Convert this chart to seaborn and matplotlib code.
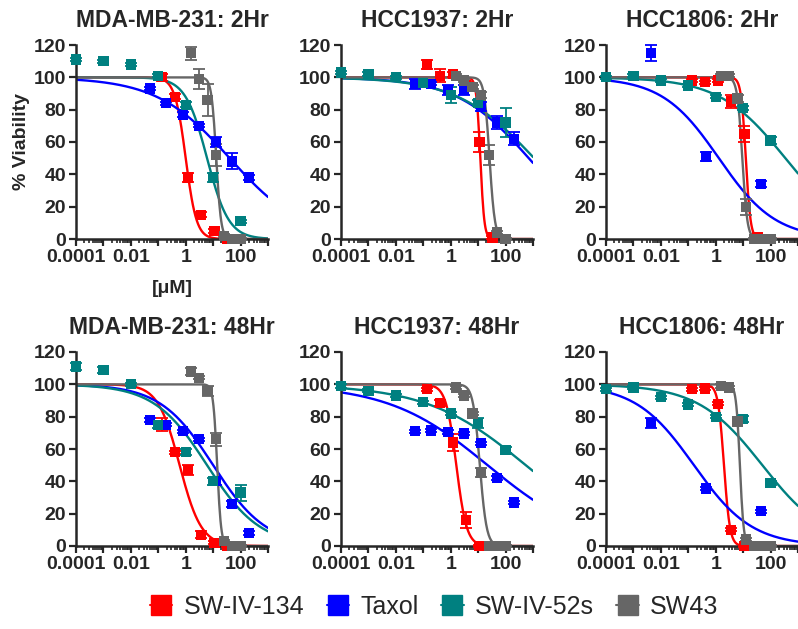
import numpy as np
import pandas as pd
import matplotlib
matplotlib.use("Agg")
import matplotlib.pyplot as plt
from matplotlib.lines import Line2D
from matplotlib.ticker import FixedLocator, FixedFormatter, NullFormatter
import seaborn as sns

# drugs and colours
drugs = ["SW-IV-134", "Taxol", "SW-IV-52s", "SW43"]
palette = {"SW-IV-134": "#ff0000", "Taxol": "#0000ff",
           "SW-IV-52s": "#008080", "SW43": "#666666"}

# concentrations (uM) per drug
conc_134 = [0.137, 0.41, 1.23, 3.7, 11.1, 33.3]
conc_taxol = [0.049, 0.195, 0.78, 3.125, 12.5, 50, 200]
conc_taxol_1806 = [0.0045, 0.45, 45]
conc_52s = [0.0001, 0.001, 0.01, 0.1, 1, 10, 100]
conc_sw43 = [1.5625, 3.125, 6.25, 12.5, 25, 50, 100]

titles = ["MDA-MB-231: 2Hr", "HCC1937: 2Hr", "HCC1806: 2Hr",
          "MDA-MB-231: 48Hr", "HCC1937: 48Hr", "HCC1806: 48Hr"]

# % viability (mean) and error per panel
mda2_134 = [100, 88, 38, 15, 5, 0]
mda2_134_err = [2, 1.5, 3, 1.5, 1, 0.5]
mda2_taxol = [93, 84, 77, 70, 60, 48, 38]
mda2_taxol_err = [1, 1, 1.5, 1, 3, 5, 1.5]
mda2_52s = [111, 110, 108, 101, 83, 38, 11]
mda2_52s_err = [1, 1, 1, 1, 1.5, 3, 1]
mda2_sw43 = [115, 99, 86, 52, 2, 0, 0]
mda2_sw43_err = [4, 6, 10, 7, 1, 0.5, 0.5]

h37_2_134 = [108, 101, 102, 95, 60, 1]
h37_2_134_err = [3, 4, 1.5, 2, 6, 1]
h37_2_taxol = [96, 96, 92, 92, 82, 72, 62]
h37_2_taxol_err = [3, 1, 3, 3, 3, 4, 4]
h37_2_52s = [103, 102, 100, 96.5, 89, 84, 72]
h37_2_52s_err = [1, 1, 1, 1, 5, 2, 9]
h37_2_sw43 = [101, 98, 94, 89, 52, 4, 0]
h37_2_sw43_err = [1, 1, 1, 2, 6, 1, 0.5]

h06_2_134 = [98, 97, 98, 85, 65, 1]
h06_2_134_err = [1, 1, 1, 4, 5, 1]
h06_2_taxol = [115, 51, 34]
h06_2_taxol_err = [5, 3, 2]
h06_2_52s = [100, 101, 98, 95, 88, 81, 61]
h06_2_52s_err = [1, 1, 1, 1, 1, 1, 2]
h06_2_sw43 = [101, 101, 87, 20, 0, 0, 0]
h06_2_sw43_err = [1, 1, 2, 5, 0.5, 0.5, 0.5]

mda48_134 = [75, 58, 47, 7, 2, 0]
mda48_134_err = [4, 1, 3, 2, 1, 0.5]
mda48_taxol = [78, 75, 71, 66, 40, 26, 8]
mda48_taxol_err = [1, 1, 1, 1, 2, 2, 1]
mda48_52s = [111, 109, 100, 75, 58, 40, 33]
mda48_52s_err = [2, 2, 1, 2, 2, 2, 5]
mda48_sw43 = [108, 104, 96, 66, 3, 0, 0]
mda48_sw43_err = [2, 1, 3, 4, 1, 0.5, 0.5]

h37_48_134 = [97, 88.5, 64, 16, 0, 0]
h37_48_134_err = [1, 2, 5, 5, 0.5, 0.5]
h37_48_taxol = [71, 71.5, 70.5, 69.5, 63.5, 42, 27]
h37_48_taxol_err = [1, 1, 1, 1, 1, 1, 1]
h37_48_52s = [99, 96, 93, 89, 82, 76, 59.5]
h37_48_52s_err = [1, 1, 1, 1, 1, 3, 2]
h37_48_sw43 = [98, 93, 82, 45.5, 0, 0, 0]
h37_48_sw43_err = [1, 1, 1, 3, 0.5, 0.5, 0.5]

h06_48_134 = [97, 97.5, 88, 10, 0, 0]
h06_48_134_err = [1, 1, 1, 1, 0.5, 0.5]
h06_48_taxol = [76, 35.5, 21.5]
h06_48_taxol_err = [3, 1, 1]
h06_48_52s = [97, 98, 92, 87.5, 80, 78.5, 39]
h06_48_52s_err = [1, 1, 1, 1, 1, 2, 1]
h06_48_sw43 = [99, 98, 77, 4, 0, 0, 0]
h06_48_sw43_err = [1, 1, 1, 1, 0.5, 0.5, 0.5]

# fitted curve parameters (IC50, Hill slope), order = drugs
ic50_mda2 = [1.0, 40, 6, 13]
hill_mda2 = [2.2, 0.325, 1.1, 5]
ic50_h37_2 = [12, 700, 1100, 26]
hill_h37_2 = [6, 0.33, 0.31, 4.5]
ic50_h06_2 = [12.5, 1.3, 345, 9.3]
hill_h06_2 = [5, 0.42, 0.36, 4.75]
ic50_mda48 = [0.6, 10, 6, 14]
hill_mda48 = [1.1, 0.45, 0.45, 6]
ic50_h37_48 = [1.6, 22, 545, 11.5]
hill_h37_48 = [2.3, 0.24, 0.24, 3.5]
ic50_h06_48 = [2.0, 0.16, 50, 7.6]
hill_h06_48 = [4, 0.41, 0.37, 6.3]

panels = [
    (titles[0], [mda2_134, mda2_taxol, mda2_52s, mda2_sw43],
     [mda2_134_err, mda2_taxol_err, mda2_52s_err, mda2_sw43_err],
     ic50_mda2, hill_mda2, conc_taxol),
    (titles[1], [h37_2_134, h37_2_taxol, h37_2_52s, h37_2_sw43],
     [h37_2_134_err, h37_2_taxol_err, h37_2_52s_err, h37_2_sw43_err],
     ic50_h37_2, hill_h37_2, conc_taxol),
    (titles[2], [h06_2_134, h06_2_taxol, h06_2_52s, h06_2_sw43],
     [h06_2_134_err, h06_2_taxol_err, h06_2_52s_err, h06_2_sw43_err],
     ic50_h06_2, hill_h06_2, conc_taxol_1806),
    (titles[3], [mda48_134, mda48_taxol, mda48_52s, mda48_sw43],
     [mda48_134_err, mda48_taxol_err, mda48_52s_err, mda48_sw43_err],
     ic50_mda48, hill_mda48, conc_taxol),
    (titles[4], [h37_48_134, h37_48_taxol, h37_48_52s, h37_48_sw43],
     [h37_48_134_err, h37_48_taxol_err, h37_48_52s_err, h37_48_sw43_err],
     ic50_h37_48, hill_h37_48, conc_taxol),
    (titles[5], [h06_48_134, h06_48_taxol, h06_48_52s, h06_48_sw43],
     [h06_48_134_err, h06_48_taxol_err, h06_48_52s_err, h06_48_sw43_err],
     ic50_h06_48, hill_h06_48, conc_taxol_1806),
]

sns.set_style("ticks")
plt.rcParams["font.family"] = ["Liberation Sans", "DejaVu Sans"]

fig = plt.figure(figsize=(7.98, 6.29), dpi=100)
W, H = 798, 629
col_left = [76, 341, 606]
row_bottom = [239, 546]
ax_w, ax_h = 192, 194

x_fit = np.logspace(-4, 3, 300)

for i, (title, values, errors, ic50s, hills, ctax) in enumerate(panels):
    r, c = divmod(i, 3)
    ax = fig.add_axes([col_left[c] / W, (H - row_bottom[r]) / H, ax_w / W, ax_h / H])

    concs = [conc_134, ctax, conc_52s, conc_sw43]
    pts, curves = [], []
    for d, x, y, e, ic, hs in zip(drugs, concs, values, errors, ic50s, hills):
        for xx, yy, ee in zip(x, y, e):
            pts.append({"drug": d, "conc": xx, "viab": yy, "err": ee})
        # 4-parameter logistic, top 100, bottom 0
        yf = 100 / (1 + (x_fit / ic) ** hs)
        curves.append(pd.DataFrame({"drug": d, "conc": x_fit, "viab": yf}))
    pdf = pd.DataFrame(pts)
    cdf = pd.concat(curves, ignore_index=True)

    sns.lineplot(data=cdf, x="conc", y="viab", hue="drug", palette=palette,
                 hue_order=drugs, estimator=None, lw=1.7, legend=False, ax=ax)
    for d in drugs:
        sub = pdf[pdf["drug"] == d]
        ax.errorbar(sub["conc"], sub["viab"], yerr=sub["err"], fmt="none",
                    ecolor=palette[d], elinewidth=1.3, capsize=4, capthick=1.3,
                    clip_on=False, zorder=3)
    sns.scatterplot(data=pdf, x="conc", y="viab", hue="drug", palette=palette,
                    hue_order=drugs, marker="s", s=55, linewidth=0,
                    legend=False, ax=ax, clip_on=False, zorder=4)

    ax.set_xscale("log")
    ax.set_xlim(1e-4, 1e3)
    ax.set_ylim(0, 120)
    ax.xaxis.set_major_locator(FixedLocator([10.0 ** k for k in range(-4, 4)]))
    ax.xaxis.set_major_formatter(FixedFormatter(["0.0001", "", "0.01", "", "1", "", "100", ""]))
    minors = [m * 10.0 ** k for k in range(-4, 3) for m in range(2, 10)]
    ax.xaxis.set_minor_locator(FixedLocator(minors))
    ax.xaxis.set_minor_formatter(NullFormatter())
    ax.set_yticks([0, 20, 40, 60, 80, 100, 120])

    for s in ["top", "right"]:
        ax.spines[s].set_visible(False)
    for s in ["left", "bottom"]:
        ax.spines[s].set_linewidth(1.8)
    ax.tick_params(axis="both", which="major", length=5, width=1.6,
                   labelsize=14, pad=2)
    ax.tick_params(axis="x", which="minor", length=3, width=1.2)
    for lab in ax.get_xticklabels() + ax.get_yticklabels():
        lab.set_fontweight("bold")

    ax.set_title(title, fontsize=16.5, fontweight="bold", pad=13)
    if i == 0:
        ax.set_ylabel("% Viability", fontsize=14, fontweight="bold", labelpad=3)
        ax.set_xlabel("[\u03bcM]", fontsize=14, fontweight="bold", labelpad=10)
    else:
        ax.set_ylabel("")
        ax.set_xlabel("")

handles = [Line2D([0], [0], color=palette[d], marker="s", markersize=14, lw=1.5)
           for d in drugs]
fig.legend(handles, drugs, loc="center", bbox_to_anchor=(0.544, 0.035), ncol=4,
           frameon=False, fontsize=18, handlelength=0.9, handletextpad=0.45,
           columnspacing=0.9)

fig.savefig("out.png", dpi=100)
plt.close(fig)
